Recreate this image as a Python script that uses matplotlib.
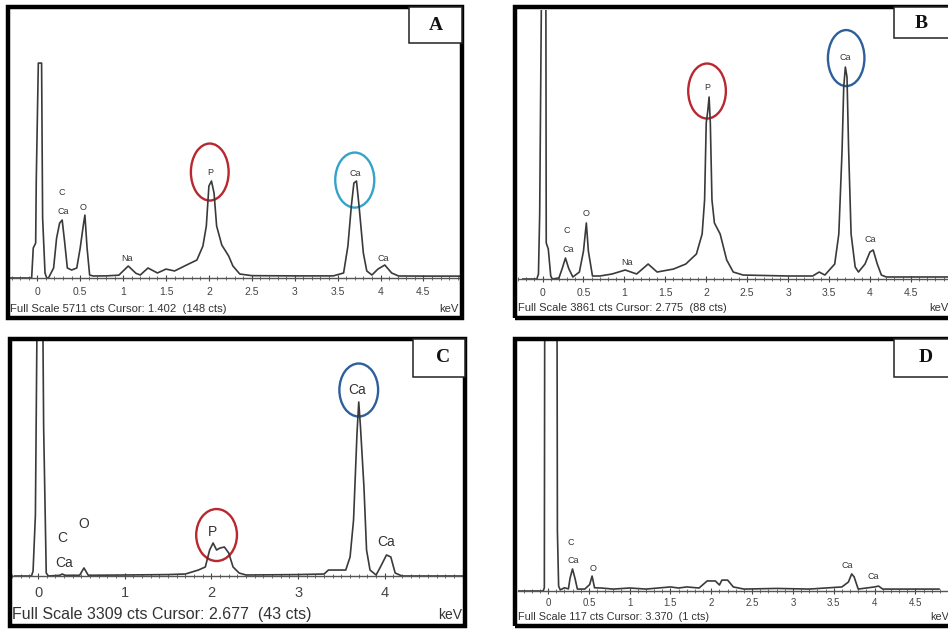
import matplotlib
matplotlib.use("Agg")
import matplotlib.pyplot as plt
from matplotlib.patches import Rectangle, Ellipse
import numpy as np

plt.rcParams['font.family'] = ['Liberation Sans', 'DejaVu Sans']

# ---- spectrum data (keV, counts) ----
A_kev = [-0.32, -0.066, -0.047, -0.019, -0.012, 0.012, 0.05, 0.062, 0.09, 0.11, 0.13, 0.19, 0.225,
         0.26, 0.29, 0.32, 0.35, 0.40, 0.46, 0.50, 0.54, 0.555, 0.58, 0.61, 0.65, 0.80, 0.95, 1.06,
         1.15, 1.20, 1.29, 1.40, 1.50, 1.60, 1.74, 1.86, 1.93, 1.97, 2.00, 2.03, 2.06, 2.09, 2.15,
         2.23, 2.28, 2.36, 2.50, 3.00, 3.45, 3.57, 3.62, 3.66, 3.69, 3.72, 3.75, 3.80, 3.84, 3.90,
         3.97, 4.05, 4.13, 4.21, 4.60, 4.95]
A_cts = [0, 0, 640, 745, 2090, 4580, 4580, 1280, 105, 0, 0, 213, 852,
         1170, 1235, 745, 213, 170, 213, 640, 1170, 1340, 640, 64, 43, 45, 60, 255,
         100, 64, 213, 107, 190, 150, 277, 383, 680, 1108, 1960, 2066, 1810, 1108, 703,
         470, 255, 85, 50, 45, 45, 107, 680, 1534, 2024, 2066, 1534, 533, 150, 64,
         190, 277, 107, 43, 40, 40]

B_kev = [-0.24, -0.07, -0.05, -0.035, -0.01, 0.04, 0.045, 0.07, 0.10, 0.12, 0.20, 0.24, 0.28,
         0.32, 0.37, 0.45, 0.50, 0.535, 0.56, 0.61, 0.70, 0.85, 1.01, 1.15, 1.29, 1.40, 1.60,
         1.75, 1.88, 1.95, 1.98, 2.00, 2.02, 2.035, 2.05, 2.07, 2.10, 2.17, 2.25, 2.33, 2.45,
         3.00, 3.30, 3.38, 3.45, 3.57, 3.62, 3.66, 3.68, 3.70, 3.72, 3.74, 3.77, 3.82, 3.86,
         3.94, 4.00, 4.04, 4.09, 4.14, 4.20, 4.60, 4.96]
B_cts = [0, 0, 72, 933, 4600, 4600, 517, 430, 43, 0, 15, 150, 301,
         150, 29, 100, 400, 804, 400, 43, 43, 72, 129, 72, 215, 100, 143,
         215, 359, 646, 1134, 2239, 2425, 2612, 2239, 1134, 804, 646, 273, 100, 57,
         43, 43, 100, 57, 215, 646, 1851, 2755, 3042, 2899, 1851, 646, 172, 100,
         215, 387, 416, 215, 57, 29, 29, 29]

C_kev = [-0.27, -0.075, -0.057, -0.03, -0.005, 0.05, 0.065, 0.095, 0.12, 0.25, 0.28, 0.31, 0.48,
         0.53, 0.58, 1.0, 1.5, 1.7, 1.85, 1.93, 1.98, 2.02, 2.06, 2.10, 2.15, 2.20, 2.25, 2.32,
         2.40, 3.0, 3.30, 3.35, 3.55, 3.60, 3.64, 3.68, 3.70, 3.72, 3.76, 3.79, 3.83, 3.90, 3.95,
         4.02, 4.07, 4.12, 4.20, 4.92]
C_cts = [0, 0, 70, 859, 4500, 4500, 2098, 42, 0, 10, 28, 10, 10,
         113, 10, 14, 20, 28, 84, 127, 366, 465, 366, 394, 408, 324, 127, 42,
         14, 20, 28, 84, 84, 268, 788, 2013, 2450, 2098, 1253, 366, 84, 14, 127,
         296, 268, 42, 0, 0]

D_kev = [-0.37, -0.06, -0.045, -0.04, 0.11, 0.115, 0.13, 0.15, 0.20, 0.25, 0.27, 0.30, 0.33,
         0.36, 0.45, 0.51, 0.54, 0.57, 0.65, 0.80, 1.0, 1.2, 1.5, 1.6, 1.7, 1.85, 1.95, 2.05,
         2.10, 2.13, 2.20, 2.27, 2.40, 2.8, 3.2, 3.60, 3.68, 3.72, 3.75, 3.80, 4.00, 4.05, 4.10,
         4.50, 4.79]
D_cts = [0, 0, 1.5, 140, 140, 28, 2.3, 0.5, 1.5, 1.0, 6, 10.3, 6,
         0.9, 0.9, 3, 7, 1.5, 1.4, 0.9, 1.4, 0.9, 1.9, 1.4, 1.9, 1.4, 4.7, 4.7,
         2.8, 5.1, 5.1, 1.9, 0.9, 1.2, 0.9, 1.9, 4.2, 8, 6.6, 0.9, 1.9, 2.3, 0.9,
         0.9, 0.9]

full_scale = {'A': 5711, 'B': 3861, 'C': 3309, 'D': 117}
footer = {'A': 'Full Scale 5711 cts Cursor: 1.402  (148 cts)',
          'B': 'Full Scale 3861 cts Cursor: 2.775  (88 cts)',
          'C': 'Full Scale 3309 cts Cursor: 2.677  (43 cts)',
          'D': 'Full Scale 117 cts Cursor: 3.370  (1 cts)'}

# peak labels: (text, keV, counts)
A_labels = [('C', 0.284, 1832), ('Ca', 0.30, 1427), ('O', 0.536, 1512), ('Na', 1.04, 426),
            ('P', 2.01, 2258), ('Ca', 3.70, 2237), ('Ca', 4.03, 426)]
B_labels = [('C', 0.29, 703), ('Ca', 0.31, 430), ('O', 0.53, 947), ('Na', 1.03, 244),
            ('P', 2.01, 2755), ('Ca', 3.70, 3186), ('Ca', 4.0, 560)]
C_labels = [('C', 0.28, 535), ('O', 0.53, 732), ('Ca', 0.305, 183), ('P', 2.01, 620),
            ('Ca', 3.68, 2619), ('Ca', 4.02, 479)]
D_labels = [('C', 0.283, 22.5), ('Ca', 0.31, 14.5), ('O', 0.55, 10.3), ('Ca', 3.66, 11.7),
            ('Ca', 3.98, 6.6)]

# circled peaks: (keV, counts, width keV, height counts, colour)
A_rings = [(2.01, 2258, 0.44, 1214, '#b8282e'), (3.70, 2087, 0.455, 1172, '#35a3c9')]
B_rings = [(2.01, 2698, 0.46, 789, '#b8282e'), (3.71, 3171, 0.446, 804, '#2f5f9a')]
C_rings = [(2.06, 577, 0.47, 732, '#b8282e'), (3.70, 2619, 0.447, 746, '#2f5f9a')]
D_rings = []

ticks_half = [0, 0.5, 1, 1.5, 2, 2.5, 3, 3.5, 4, 4.5]
ticklabels_half = ['0', '0.5', '1', '1.5', '2', '2.5', '3', '3.5', '4', '4.5']
ticks_int = [0, 1, 2, 3, 4]
ticklabels_int = ['0', '1', '2', '3', '4']

W, H = 948, 630
fig = plt.figure(figsize=(W / 100, H / 100), dpi=100)


def fx(x):
    return x / W


def fy(y):
    return 1 - y / H


# layout in pixels: frame box, inner plot box, keV mapping, text positions
panels = [
    dict(name='A', kev=A_kev, cts=A_cts, labels=A_labels, rings=A_rings,
         frame=(8, 7, 462, 318), inner=(10, 10, 461, 278), zero=37.3, ppk=85.8,
         ticks=ticks_half, tlabels=ticklabels_half, fs=7.5, lfs=6.5, pad=4,
         box=(409, 43), letter=(436, 25), foot=(10, 309), footfs=8.1,
         kev_txt=(459, 309, 'right')),
    dict(name='B', kev=B_kev, cts=B_cts, labels=B_labels, rings=B_rings,
         frame=(515, 7, 960, 318), inner=(518, 10, 948, 279), zero=537.3, ppk=82.9,
         ticks=ticks_half, tlabels=ticklabels_half, fs=7.5, lfs=6.5, pad=4,
         box=(894, 38), letter=(921, 24), foot=(518, 308), footfs=8.0,
         kev_txt=(929, 308, 'left')),
    dict(name='C', kev=C_kev, cts=C_cts, labels=C_labels, rings=C_rings,
         frame=(10, 339, 465, 626), inner=(12, 341, 463, 576), zero=35.0, ppk=87.3,
         ticks=ticks_int, tlabels=ticklabels_int, fs=10.5, lfs=10, pad=5,
         box=(413, 377), letter=(443, 358), foot=(12, 615), footfs=11.5,
         kev_txt=(462, 615, 'right')),
    dict(name='D', kev=D_kev, cts=D_cts, labels=D_labels, rings=D_rings,
         frame=(515, 339, 960, 626), inner=(518, 341, 948, 591), zero=548.7, ppk=83.5,
         ticks=ticks_half, tlabels=ticklabels_half, fs=7.0, lfs=6.5, pad=2.5,
         box=(894, 377), letter=(926, 358), foot=(518, 617), footfs=7.8,
         kev_txt=(930, 617, 'left')),
]

for p in panels:
    L, T, R, B = p['inner']
    ax = fig.add_axes([fx(L), fy(B), fx(R) - fx(L), fy(T) - fy(B)])
    ax.patch.set_alpha(0)
    ax.set_xlim((L - p['zero']) / p['ppk'], (R - p['zero']) / p['ppk'])
    ax.set_ylim(0, full_scale[p['name']])
    for s in ['left', 'right', 'top']:
        ax.spines[s].set_visible(False)
    ax.spines['bottom'].set_color('#555555')
    ax.spines['bottom'].set_linewidth(1.0)
    ax.set_yticks([])
    ax.set_xticks(p['ticks'])
    ax.set_xticklabels(p['tlabels'])
    ax.set_xticks(np.arange(-0.3, 5.0, 0.1), minor=True)
    ax.tick_params(axis='x', which='major', direction='inout', length=5, width=0.8,
                   colors='#444444', labelsize=p['fs'], pad=p['pad'])
    ax.tick_params(axis='x', which='minor', direction='inout', length=3, width=0.6,
                   colors='#555555')

    ax.plot(p['kev'], p['cts'], color='#3a3a3a', lw=1.2)

    for txt, x, y in p['labels']:
        ax.text(x, y, txt, ha='center', va='center', fontsize=p['lfs'], color='#333333')
    for x, y, w, h, c in p['rings']:
        ax.add_patch(Ellipse((x, y), w, h, fill=False, ec=c, lw=1.7))

    # thick outer frame
    fL, fT, fR, fB = p['frame']
    fig.add_artist(Rectangle((fx(fL), fy(fB)), fx(fR) - fx(fL), fy(fT) - fy(fB),
                             transform=fig.transFigure, fill=False, ec='black', lw=3.2))
    # letter box in the top right corner
    bx, bb = p['box']
    fig.add_artist(Rectangle((fx(bx), fy(bb)), fx(fR) - fx(bx), fy(fT) - fy(bb),
                             transform=fig.transFigure, fc='white', ec='#222222', lw=1.1))
    lx, ly = p['letter']
    fig.text(fx(lx), fy(ly), p['name'], ha='center', va='center', fontsize=14,
             fontweight='bold', family='Liberation Serif', color='#111111')

    ftx, fty = p['foot']
    fig.text(fx(ftx), fy(fty), footer[p['name']], ha='left', va='center',
             fontsize=p['footfs'], color='#333333')
    kx, ky, kha = p['kev_txt']
    fig.text(fx(kx), fy(ky), 'keV', ha=kha, va='center',
             fontsize=p['footfs'] if p['name'] != 'C' else 10, color='#333333')

fig.savefig('out.png', dpi=100, facecolor='white')
